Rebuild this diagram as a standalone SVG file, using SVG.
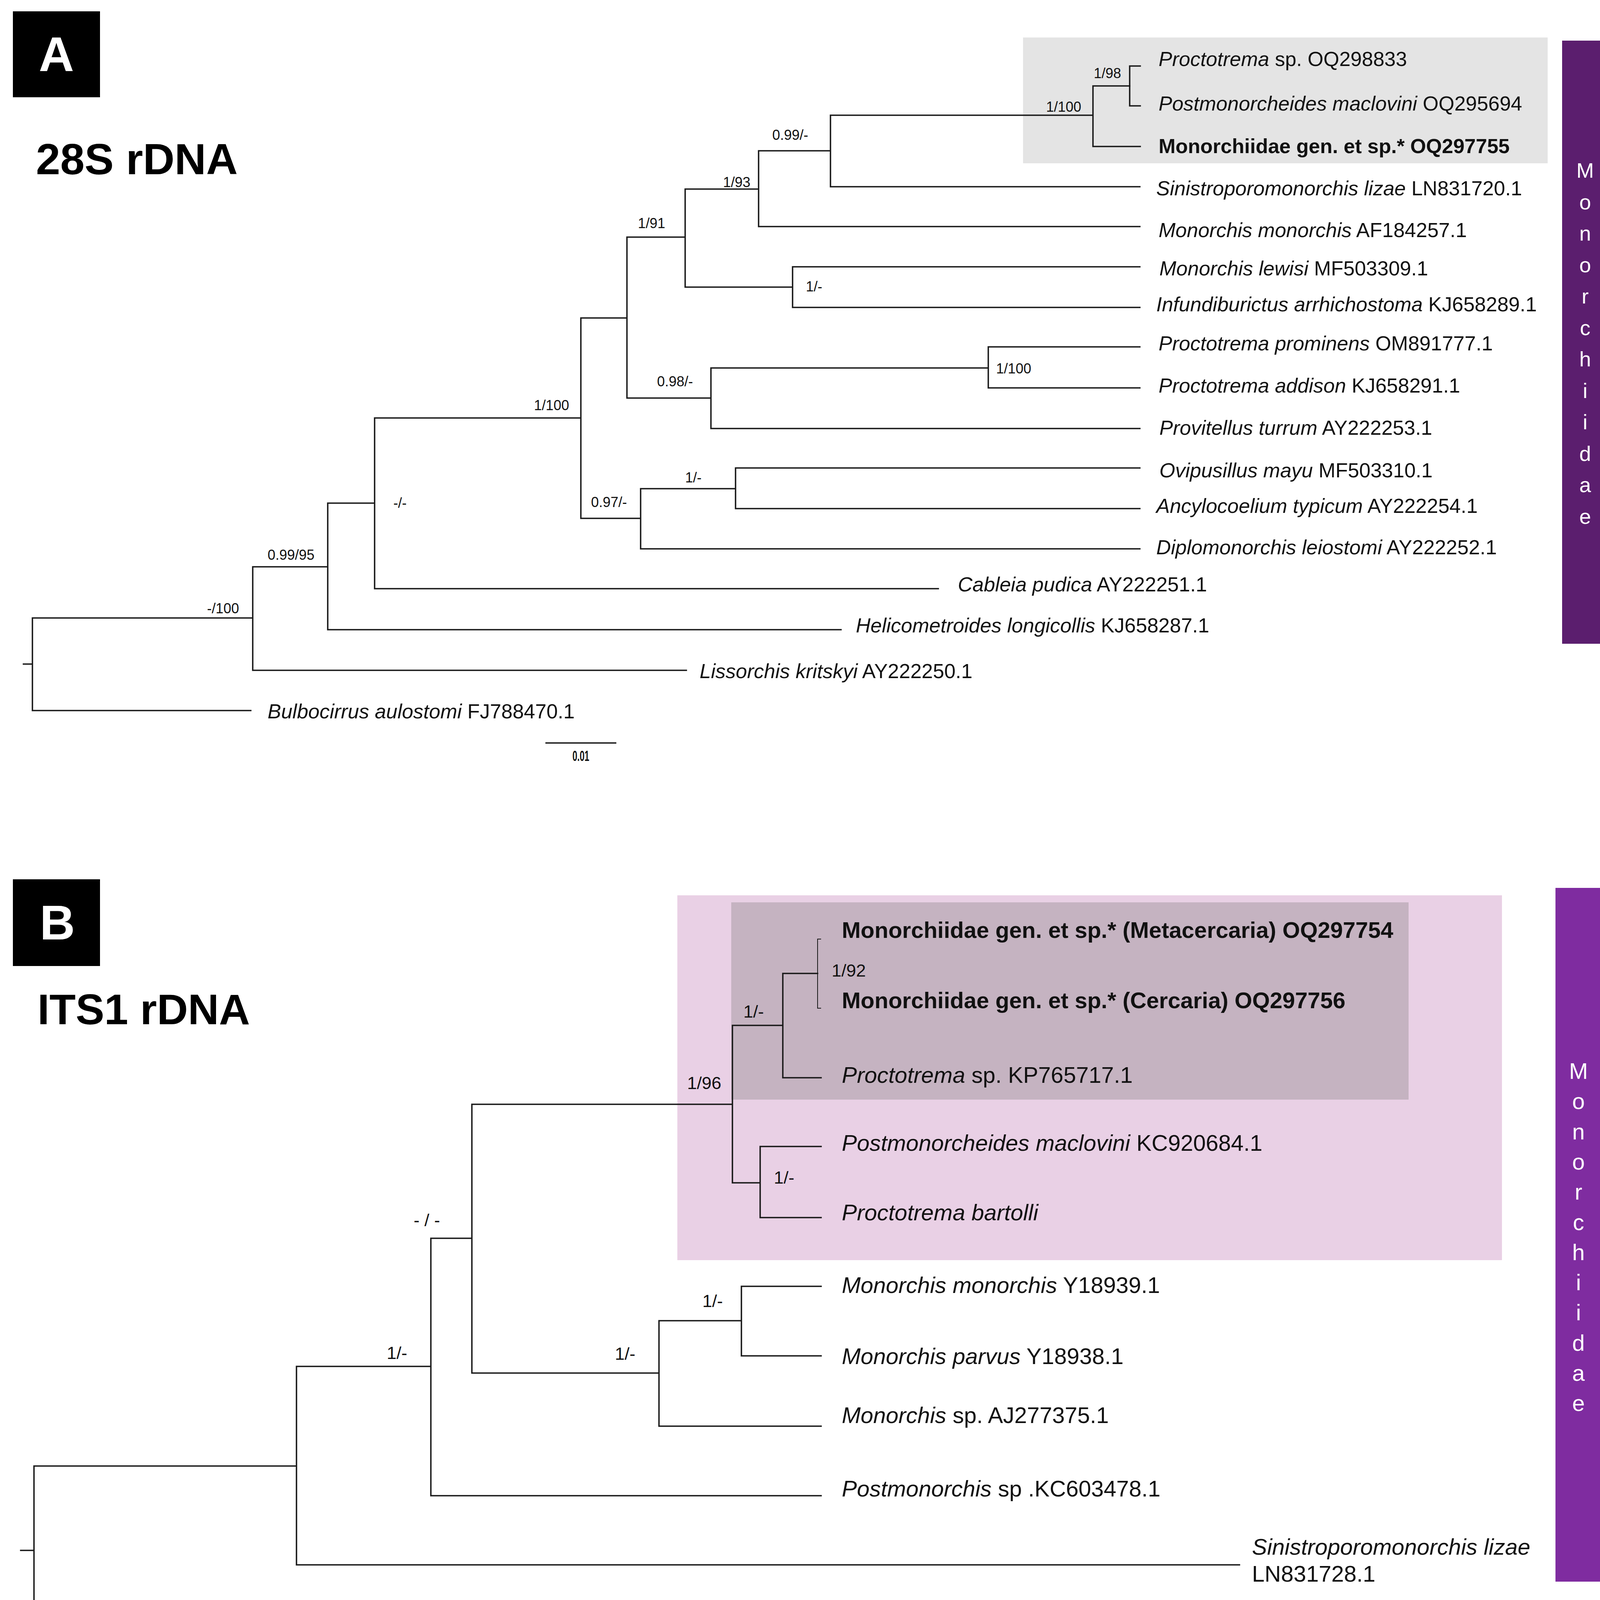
<svg xmlns="http://www.w3.org/2000/svg" width="4146" height="4360" viewBox="0 0 4146 4360">
<style>
.br{fill:none;stroke:#1a1a1a;stroke-width:3.6;stroke-linecap:square}
.thin{fill:none;stroke:#1a1a1a;stroke-width:2}
.ta{font-family:"Liberation Sans",Arial,sans-serif;font-size:52px;fill:#111}
.tb{font-family:"Liberation Sans",Arial,sans-serif;font-size:58px;fill:#111}
.i{font-style:italic}
.bd{font-weight:bold}
.sa{font-family:"Liberation Sans",Arial,sans-serif;font-size:36px;fill:#111}
.sb{font-family:"Liberation Sans",Arial,sans-serif;font-size:45px;fill:#111}
.ttl{font-family:"Liberation Sans",Arial,sans-serif;font-weight:bold;fill:#000}
.pl{font-family:"Liberation Sans",Arial,sans-serif;font-weight:bold;font-size:125px;fill:#fff;text-anchor:middle}
.vl{font-family:"Liberation Sans",Arial,sans-serif;fill:#fff;text-anchor:middle}
.sc{font-family:"Liberation Sans",Arial,sans-serif;font-weight:bold;font-size:36px;fill:#111;text-anchor:middle}
</style>
<rect width="4146" height="4360" fill="#fff"/>

<!-- Panel A -->
<g id="panelA-label"><rect x="33" y="29" width="223" height="220" fill="#000"/><text class="pl" x="144.5" y="182">A</text></g>
<text id="titleA" class="ttl" x="92" y="446" font-size="112">28S rDNA</text>
<rect id="boxA" x="2619" y="96" width="1343" height="322" fill="#e4e4e4"/>
<g id="barA"><rect x="3999" y="104" width="119" height="1544" fill="#5b1e6e"/>
<text class="vl" font-size="54" x="4058"><tspan x="4058" y="455">M</tspan><tspan x="4058" dy="80.5">o</tspan><tspan x="4058" dy="80.5">n</tspan><tspan x="4058" dy="80.5">o</tspan><tspan x="4058" dy="80.5">r</tspan><tspan x="4058" dy="80.5">c</tspan><tspan x="4058" dy="80.5">h</tspan><tspan x="4058" dy="80.5">i</tspan><tspan x="4058" dy="80.5">i</tspan><tspan x="4058" dy="80.5">d</tspan><tspan x="4058" dy="80.5">a</tspan><tspan x="4058" dy="80.5">e</tspan></text></g>

<!-- Panel B -->
<g id="panelB-label"><rect x="33" y="2251" width="223" height="222" fill="#000"/><text class="pl" x="147" y="2405">B</text></g>
<text id="titleB" class="ttl" x="96" y="2622" font-size="110">ITS1 rDNA</text>
<rect id="boxB" x="1734" y="2292" width="2111" height="934" fill="#e9d0e5"/>
<rect id="boxB2" x="1872" y="2310" width="1734" height="505" fill="#c5b3c1"/>
<g id="barB"><rect x="3982" y="2273" width="119" height="1776" fill="#7f2ca0"/>
<text class="vl" font-size="58" x="4041"><tspan x="4041" y="2762">M</tspan><tspan x="4041" dy="77.3">o</tspan><tspan x="4041" dy="77.3">n</tspan><tspan x="4041" dy="77.3">o</tspan><tspan x="4041" dy="77.3">r</tspan><tspan x="4041" dy="77.3">c</tspan><tspan x="4041" dy="77.3">h</tspan><tspan x="4041" dy="77.3">i</tspan><tspan x="4041" dy="77.3">i</tspan><tspan x="4041" dy="77.3">d</tspan><tspan x="4041" dy="77.3">a</tspan><tspan x="4041" dy="77.3">e</tspan></text></g>

<!-- connectors -->
<g id="connectors">
<path class="br" d="M60,1700 H83 M647,1582 H83 V1819 H642 M839,1451 H647 V1716 H1757 M959,1288 H839 V1612 H2153 M1487,1070 H959 V1507 H2402 M1605,814 H1487 V1327 H1640 M1754,607 H1605 V1019 H1820 M1942,484 H1754 V735 H2029 M2126,386 H1942 V580 H2918 M2798,295 H2126 V478 H2918 M2892,220 H2798 V375 H2919 M2918,683 H2029 V787 H2918 M2530,942 H1820 V1097 H2918 M2918,888 H2530 V993 H2918 M1883,1251 H1640 V1405 H2918 M2918,1198 H1883 V1302 H2918"/>
<path class="br" d="M2919,169 H2892 V271 H2919"/>
<path class="br" d="M1398,1902 H1576"/>
<path class="br" d="M53,3969 H87 M759,3753 H87 V4190 H687 M1103,3498 H759 V4006 H3173 M1208,3170 H1103 V3829 H2102 M1875,2827 H1208 V3515 H1687 M2004,2625 H1875 V3028 H1946 M2093,2492 H2004 V2759 H2102 M2102,2935 H1946 V3117 H2102 M1898,3381 H1687 V3651 H2102 M2102,3293 H1898 V3471 H2102"/>
<path class="thin" d="M2102,2404 H2093 V2581 H2102"/>
<path class="br" d="M1534,4280 H1732"/>
</g>

<!-- support values A -->
<g id="supportA" class="sa">
<text x="2800" y="200">1/98</text>
<text x="2678" y="286">1/100</text>
<text x="1977" y="358">0.99/-</text>
<text x="1851" y="479">1/93</text>
<text x="1633" y="584">1/91</text>
<text x="2063" y="746">1/-</text>
<text x="2550" y="956">1/100</text>
<text x="1682" y="989">0.98/-</text>
<text x="1367" y="1050">1/100</text>
<text x="1754" y="1235">1/-</text>
<text x="1513" y="1298">0.97/-</text>
<text x="1007" y="1300">-/-</text>
<text x="685" y="1433">0.99/95</text>
<text x="530" y="1570">-/100</text>
</g>
<text id="scaleA" class="sc" x="1487" y="1948" textLength="43" lengthAdjust="spacingAndGlyphs">0.01</text>

<!-- taxa A -->
<g id="taxaA" class="ta">
<g id="a1"><text x="2966" y="169"><tspan class="i">Proctotrema</tspan> sp. OQ298833</text></g>
<g id="a2"><text x="2966" y="283"><tspan class="i">Postmonorcheides maclovini</tspan> OQ295694</text></g>
<g id="a3"><text class="bd" x="2966" y="392">Monorchiidae gen. et sp.* OQ297755</text></g>
<g id="a4"><text x="2960" y="500"><tspan class="i">Sinistroporomonorchis lizae</tspan> LN831720.1</text></g>
<g id="a5"><text x="2966" y="607"><tspan class="i">Monorchis monorchis</tspan> AF184257.1</text></g>
<g id="a6"><text x="2968" y="705"><tspan class="i">Monorchis lewisi</tspan> MF503309.1</text></g>
<g id="a7"><text x="2960" y="797"><tspan class="i">Infundiburictus arrhichostoma</tspan> KJ658289.1</text></g>
<g id="a8"><text x="2966" y="897"><tspan class="i">Proctotrema prominens</tspan> OM891777.1</text></g>
<g id="a9"><text x="2966" y="1005"><tspan class="i">Proctotrema addison</tspan> KJ658291.1</text></g>
<g id="a10"><text x="2968" y="1113"><tspan class="i">Provitellus turrum</tspan> AY222253.1</text></g>
<g id="a11"><text x="2968" y="1222"><tspan class="i">Ovipusillus mayu</tspan> MF503310.1</text></g>
<g id="a12"><text x="2960" y="1313"><tspan class="i">Ancylocoelium typicum</tspan> AY222254.1</text></g>
<g id="a13"><text x="2960" y="1419"><tspan class="i">Diplomonorchis leiostomi</tspan> AY222252.1</text></g>
<g id="a14"><text x="2452" y="1514"><tspan class="i">Cableia pudica</tspan> AY222251.1</text></g>
<g id="a15"><text x="2191" y="1619"><tspan class="i">Helicometroides longicollis</tspan> KJ658287.1</text></g>
<g id="a16"><text x="1791" y="1736"><tspan class="i">Lissorchis kritskyi</tspan> AY222250.1</text></g>
<g id="a17"><text x="685" y="1839"><tspan class="i">Bulbocirrus aulostomi</tspan> FJ788470.1</text></g>
</g>

<!-- support values B -->
<g id="supportB" class="sb">
<text x="2129" y="2500">1/92</text>
<text x="1903" y="2605">1/-</text>
<text x="1759" y="2788">1/96</text>
<text x="1981" y="3030">1/-</text>
<text x="1059" y="3139">- / -</text>
<text x="1798" y="3346">1/-</text>
<text x="1574" y="3481">1/-</text>
<text x="990" y="3479">1/-</text>
</g>
<text id="scaleB" class="sc" x="1634" y="4328" textLength="50" lengthAdjust="spacingAndGlyphs">0.04</text>

<!-- taxa B -->
<g id="taxaB" class="tb">
<g id="b1"><text class="bd" x="2155" y="2401">Monorchiidae gen. et sp.* (Metacercaria) OQ297754</text></g>
<g id="b2"><text class="bd" x="2155" y="2581">Monorchiidae gen. et sp.* (Cercaria) OQ297756</text></g>
<g id="b3"><text x="2155" y="2772"><tspan class="i">Proctotrema</tspan> sp. KP765717.1</text></g>
<g id="b4"><text x="2155" y="2946"><tspan class="i">Postmonorcheides maclovini</tspan> KC920684.1</text></g>
<g id="b5"><text x="2155" y="3124"><tspan class="i">Proctotrema bartolli</tspan></text></g>
<g id="b6"><text x="2155" y="3310"><tspan class="i">Monorchis monorchis</tspan> Y18939.1</text></g>
<g id="b7"><text x="2155" y="3492"><tspan class="i">Monorchis parvus</tspan> Y18938.1</text></g>
<g id="b8"><text x="2155" y="3643"><tspan class="i">Monorchis</tspan> sp. AJ277375.1</text></g>
<g id="b9"><text x="2155" y="3831"><tspan class="i">Postmonorchis</tspan> sp .KC603478.1</text></g>
<g id="b10"><text x="3205" y="3980" class="i">Sinistroporomonorchis lizae</text><text x="3205" y="4049">LN831728.1</text></g>
<g id="b11"><text x="719" y="4188"><tspan class="i">Homalometron manteri</tspan> KC603478.1</text></g>
</g>
</svg>
